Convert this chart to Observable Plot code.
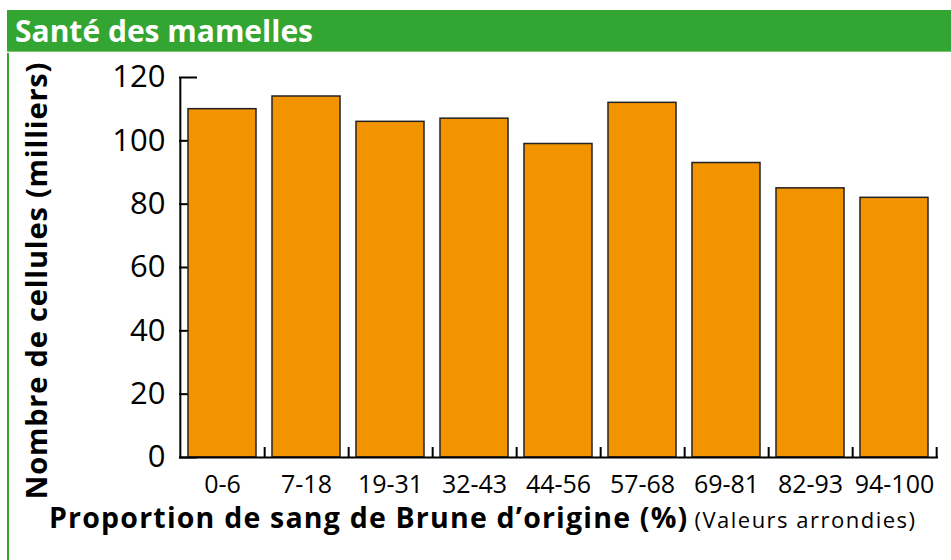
<!DOCTYPE html>
<html>
<head>
<meta charset="utf-8">
<script src="https://cdn.jsdelivr.net/npm/d3@7"></script>
<script src="https://cdn.jsdelivr.net/npm/@observablehq/plot@0.6"></script>
<style>
  html, body { margin: 0; padding: 0; background: #fff; }
  #wrap { position: relative; width: 951px; height: 560px; overflow: hidden; background: #fff; font-family: 'Open Sans', sans-serif; }
  #hdr { position: absolute; left: 7px; top: 10px; width: 944px; height: 42px; background: #33a532; border-bottom: 1px solid #7cc66a;
         color: #fff; font-weight: bold; font-size: 30px; line-height: 40px; padding-left: 8px; padding-top: 1px; box-sizing: border-box; white-space: nowrap; }
  #lb { position: absolute; left: 7px; top: 53px; width: 2px; height: 507px; background: #33a532; }
  #chart { position: absolute; left: 0; top: 53px; }
  #xt { position: absolute; left: 49px; top: 503px; white-space: nowrap; line-height: 29px; color: #000; }
  #xt b { font-size: 28.5px; font-weight: bold; letter-spacing: 1.2px; }
  #xt span { font-size: 22px; margin-left: 6px; letter-spacing: 1.5px; }
</style>
</head>
<body>
<div id="wrap">
  <div id="hdr"></div>
  <div id="lb"></div>
  <div id="chart"></div>
  <div id="xt"><b></b><span></span></div>
</div>
<script>
const title = "Santé des mamelles";
const categories = ["0-6", "7-18", "19-31", "32-43", "44-56", "57-68", "69-81", "82-93", "94-100"];
const values = [110, 114, 106, 107, 99, 112, 93, 85, 82];
const yTicks = [0, 20, 40, 60, 80, 100, 120];
const yLabel = "Nombre de cellules (milliers)";
const xLabel = "Proportion de sang de Brune d’origine (%)";
const xNote = "(Valeurs arrondies)";

document.getElementById("hdr").textContent = title;
document.querySelector("#xt b").textContent = xLabel;
document.querySelector("#xt span").textContent = xNote;

const W = 951, H = 507, mL = 179, mR = 13, mT = 24, mB = 103;
const step = (W - mL - mR) / categories.length;
const data = categories.map((c, i) => ({c, v: values[i]}));

const chart = Plot.plot({
  width: W, height: H,
  marginLeft: mL, marginRight: mR, marginTop: mT, marginBottom: mB,
  style: {fontFamily: "'Open Sans', sans-serif", background: "transparent", color: "#000", overflow: "visible"},
  x: {type: "band", domain: categories, paddingInner: 0.19, paddingOuter: 0.095, align: 0.5},
  y: {domain: [0, 120]},
  marks: [
    Plot.ruleY(yTicks, {y: d => d, insetRight: W - mL - mR - 18, stroke: "#000", strokeWidth: 2}),
    Plot.barY(data, {x: "c", y: "v", fill: "#f29400", stroke: "#222", strokeWidth: 1.5}),
    Plot.ruleX(categories, {x: d => d, dx: step / 2, insetTop: (H - mT - mB) - 10, stroke: "#000", strokeWidth: 2}),
    Plot.ruleX([categories[0]], {x: d => d, dx: -step / 2, stroke: "#000", strokeWidth: 2}),
    Plot.ruleY([0], {stroke: "#000", strokeWidth: 2}),
    Plot.axisY({ticks: yTicks, tickSize: 0, tickPadding: 14, fontSize: 31, label: null}),
    Plot.axisX({tickSize: 0, tickPadding: 18, fontSize: 25, label: null}),
    Plot.text([yLabel], {frameAnchor: "left", textAnchor: "middle", lineAnchor: "middle", rotate: -90, dx: -142, dy: 13, fontSize: 29, fontWeight: "bold", fill: "#000"})
  ]
});
d3.select(chart).selectAll("text").filter(function() { return this.textContent === yLabel; }).style("letter-spacing", "0.8px");
document.getElementById("chart").appendChild(chart);
</script>
</body>
</html>
